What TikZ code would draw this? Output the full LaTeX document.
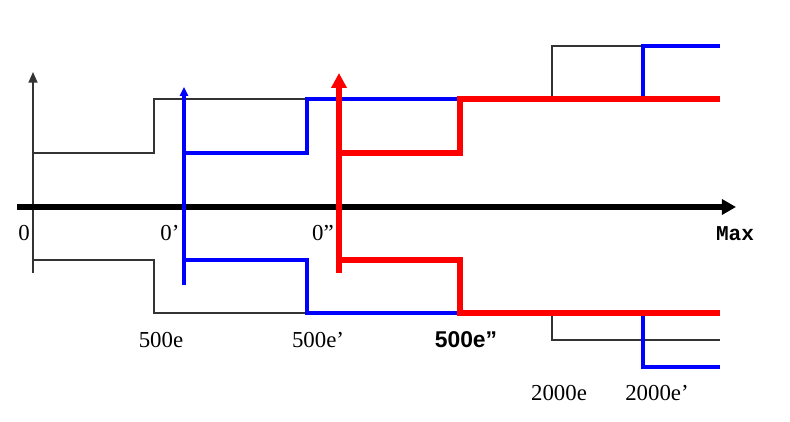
\documentclass[tikz,border=0pt]{standalone}
\usepackage{fontspec}
\setmainfont{Liberation Serif}
\newfontfamily\boldsans{Liberation Sans}
\newfontfamily\boldmono{Liberation Mono}
\usetikzlibrary{arrows.meta}

\begin{document}
\begin{tikzpicture}[x=0.02cm,y=-0.02cm,
    thinline/.style={draw=black!80,line width=1pt},
    blueline/.style={draw=blue,line width=1.9pt},
    redline/.style={draw=red,line width=3.2pt},
    lbl/.style={font=\fontsize{13}{15}\selectfont,inner sep=0pt}]
					\useasboundingbox (0,0) rectangle (790,422);
					% levels (pixels, y downwards)
					\def\yt{46};
					\def\ya{99};
					\def\yb{153};
					\def\yaxis{207};
					\def\yc{260};
					\def\yd{313};
					\def\ye{340};
					\def\yf{367};
					\def\xo{33};
					\def\xa{154};
					\def\xb{184};
					\def\xc{307};
					\def\xd{339};
					\def\xe{460};
					\def\xf{552};
					\def\xg{643};
					\def\xmax{720};
					% black
					\draw[thinline,-{Triangle[length=6pt,width=5pt]}] (\xo,273) -- (\xo,72);
					\draw[thinline]
					(\xo,\yb) -- (\xa,\yb) -- (\xa,\ya) -- (\xc,\ya)
					(\xo,\yc) -- (\xa,\yc) -- (\xa,\yd) -- (\xc,\yd)
					(\xf,\ya) -- (\xf,\yt) -- (\xg,\yt)
					(\xf,\yd) -- (\xf,\ye) -- (\xmax,\ye);
					\draw[line width=2.9pt,-{Triangle[length=8pt,width=8.5pt]}] (17,\yaxis) -- (736,\yaxis);
					% blue
					\draw[blueline,-{Triangle[length=5pt,width=4.5pt]}] (\xb,285) -- (\xb,87);
					\draw[blueline]
					(\xb,\yb) -- (\xc,\yb) -- (\xc,\ya) -- (\xe,\ya)
					(\xb,\yc) -- (\xc,\yc) -- (\xc,\yd) -- (\xe,\yd)
					(\xg,\ya) -- (\xg,\yt) -- (\xmax,\yt)
					(\xg,\yd) -- (\xg,\yf) -- (\xmax,\yf);
					% red
					\draw[redline,-{Triangle[length=8.5pt,width=8.5pt]}] (\xd,273) -- (\xd,73);
					\draw[redline]
					(\xd,\yb) -- (\xe,\yb) -- (\xe,\ya) -- (\xmax,\ya)
					(\xd,\yc) -- (\xe,\yc) -- (\xe,\yd) -- (\xmax,\yd);
					% labels
					\node[lbl] (zero) at (24,233) {0};
					\node[lbl] (zeroa) at (170,233) {0’};
					\node[lbl] (zerob) at (323,233) {0”};
					\node[lbl,font=\boldmono\bfseries\fontsize{12}{14}\selectfont] (max) at (735,234) {Max};
					\node[lbl] (fivea) at (161,340) {500e};
					\node[lbl] (fiveb) at (318,340) {500e’};
					\node[lbl,font=\boldsans\bfseries\fontsize{13}{15}\selectfont] (fivec) at (466,340) {500e”};
					\node[lbl] (twoa) at (559,393) {2000e};
					\node[lbl] (twob) at (657,393) {2000e’};
				\end{tikzpicture}
\end{document}
